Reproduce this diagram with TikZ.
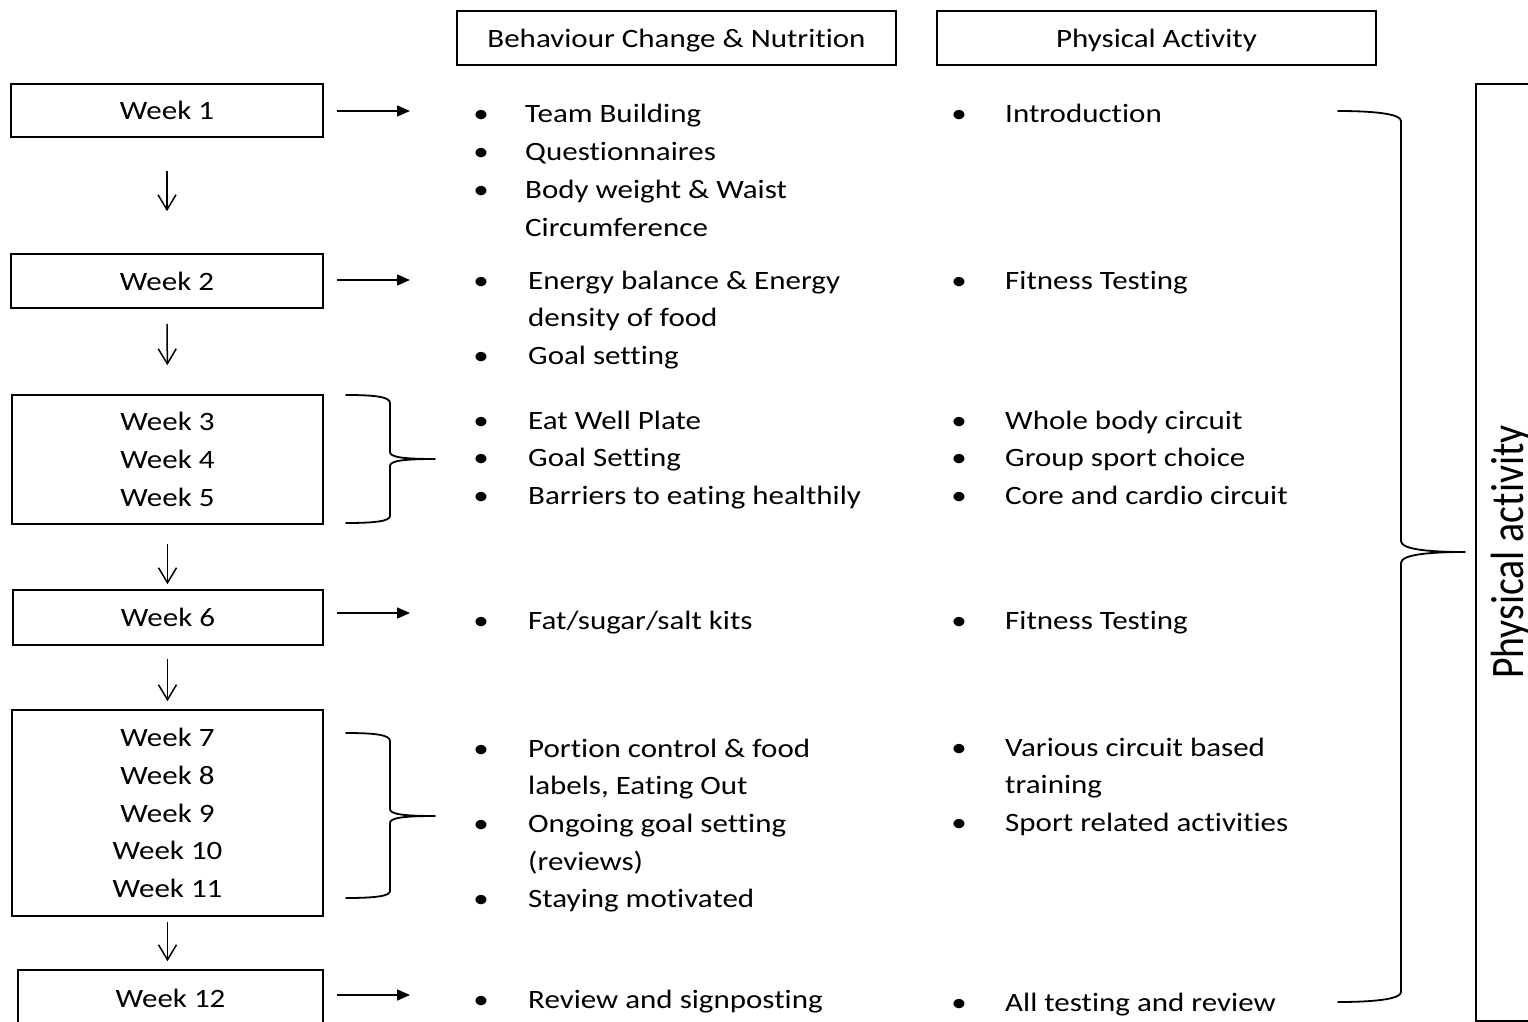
\documentclass[tikz,border=0pt]{standalone}
\usepackage{fontspec}
\usepackage{graphicx}
\setmainfont{Carlito}[FakeStretch=1.17, Ligatures=NoCommon]
\newfontfamily\rotfont{Carlito}[Ligatures=NoCommon]
\usetikzlibrary{arrows.meta}
\newcommand{\litem}[5]{%
  \node[bul] (#1b) at (#2,#4) {•};
  \node[itm] (#1) at (#3,#4) {#5};}
\begin{document}
\begin{tikzpicture}[x=1pt,y=-1pt,
  txt/.style={font=\fontsize{26.5}{37.7}\selectfont, inner sep=0pt},
  wk/.style={draw, line width=1.6pt, minimum width=312pt, inner sep=0pt, align=center,
    font=\fontsize{26.5}{37.7}\selectfont},
  hdr/.style={draw, line width=1.6pt, minimum width=439pt, minimum height=54pt, inner sep=0pt,
    text height=19pt, text depth=0pt, font=\fontsize{26.5}{37.7}\selectfont},
  itm/.style={txt, anchor=base west},
  bul/.style={txt, anchor=base},
  rarr/.style={line width=1.5pt, -{Triangle[length=13pt,width=11pt]}},
  darr/.style={line width=1.5pt, -{Straight Barb[length=15pt,width=18pt]}},
  bracepath/.style={line width=1.8pt, line join=round, line cap=round}
]
\useasboundingbox (0,0) rectangle (1528,1022);
\clip (0,0) rectangle (1528,1022);

% headers
\node[hdr] (h1) at (676.5,38) {Behaviour Change \& Nutrition};
\node[hdr] (h2) at (1156.5,38) {Physical Activity};

% week boxes
\node[wk, minimum height=53pt] (w1) at (167,110.5) {Week 1};
\node[wk, minimum height=54pt] (w2) at (167,281) {Week 2};
\node[wk, minimum height=129pt, minimum width=311pt] (w3) at (167.5,459.5) {Week 3\\Week 4\\Week 5};
\node[wk, minimum height=55pt, minimum width=310pt] (w6) at (168,617.5) {Week 6};
\node[wk, minimum height=206pt, minimum width=311pt] (w7) at (167.5,813) {Week 7\\Week 8\\Week 9\\Week 10\\Week 11};
\node[wk, minimum height=56pt, minimum width=305pt] (w12) at (170.5,998) {Week 12};

% down arrows
\draw[darr, shorten <=33pt, shorten >=42pt] (w1.south) -- (w2.north);
\draw[darr, shorten <=15pt, shorten >=29pt] (w2.south) -- (w3.north);
\draw[darr, shorten <=19pt, shorten >=5pt] (w3.south) -- (w3.south |- w6.north);
\draw[darr, shorten <=13pt, shorten >=8pt] (w6.south -| w7.north) -- (w7.north);
\draw[darr, shorten <=5pt, shorten >=8pt] (w7.south) -- (w7.south |- w12.north);

% right arrows
\coordinate (r1s) at (337,111); \coordinate (r1e) at (410,111);
\coordinate (r2s) at (337,280); \coordinate (r2e) at (410,280);
\coordinate (r6s) at (337,613); \coordinate (r6e) at (410,613);
\coordinate (r12s) at (337,995); \coordinate (r12e) at (410,995);
\draw[rarr] (r1s) -- (r1e);
\draw[rarr] (r2s) -- (r2e);
\draw[rarr] (r6s) -- (r6e);
\draw[rarr] (r12s) -- (r12e);

% small braces
\draw[bracepath] (346,395) .. controls (376,395) and (390,397) .. (390,403) -- (390,452)
  .. controls (390,457) and (402,459) .. (435,459)
  .. controls (402,459) and (390,461) .. (390,466) -- (390,516)
  .. controls (390,521) and (376,523) .. (346,523);
\draw[bracepath] (346,733) .. controls (376,733) and (390,735) .. (390,741) -- (390,809)
  .. controls (390,814) and (402,816) .. (435,816)
  .. controls (402,816) and (390,818) .. (390,823) -- (390,891)
  .. controls (390,896) and (376,898) .. (346,898);

% big brace
\draw[bracepath] (1338,111) .. controls (1375,111) and (1401,114) .. (1401,121) -- (1401,541)
  .. controls (1401,548) and (1420,552) .. (1465,552)
  .. controls (1420,552) and (1401,556) .. (1401,563) -- (1401,992)
  .. controls (1401,999) and (1375,1002) .. (1338,1002);

% right box
\draw[line width=1.6pt] (1476,84) rectangle (1560,1021);
\node[inner sep=0pt] (pa) at (1511,552)
  {\scalebox{1.17}[1]{\rotatebox{90}{\rotfont\fontsize{39.8}{45}\selectfont Physical activity}}};

% row 1
\litem{a1}{481}{525}{123}{Team Building}
\litem{a2}{481}{525}{160.7}{Questionnaires}
\litem{a3}{481}{525}{198.4}{Body weight \& Waist}
\node[itm] (a3c) at (525,236.1) {Circumference};
\litem{p1}{959}{1005}{123}{Introduction}

% row 2
\litem{a4}{481}{528}{289}{Energy balance \& Energy}
\node[itm] (a4c) at (528,326.7) {density of food};
\litem{a5}{481}{528}{364.4}{Goal setting}
\litem{p2}{959}{1005}{289}{Fitness Testing}

% row 3
\litem{a6}{481}{528}{429}{Eat Well Plate}
\litem{a7}{481}{528}{466.7}{Goal Setting}
\litem{a8}{481}{528}{504.4}{Barriers to eating healthily}
\litem{p3}{959}{1005}{429}{Whole body circuit}
\litem{p4}{959}{1005}{466.7}{Group sport choice}
\litem{p5}{959}{1005}{504.4}{Core and cardio circuit}

% row 6
\litem{a9}{481}{528}{629}{Fat/sugar/salt kits}
\litem{p6}{959}{1005}{629}{Fitness Testing}

% row 7
\litem{a10}{481}{528}{757}{Portion control \& food}
\node[itm] (a10c) at (528,794.7) {labels, Eating Out};
\litem{a11}{481}{528}{832.4}{Ongoing goal setting}
\node[itm] (a11c) at (528,870.1) {(reviews)};
\litem{a12}{481}{528}{907.8}{Staying motivated}
\litem{p7}{959}{1005}{756}{Various circuit based}
\node[itm] (p7c) at (1005,793.7) {training};
\litem{p8}{959}{1005}{831.4}{Sport related activities}

% row 12
\litem{a13}{481}{528}{1008}{Review and signposting}
\litem{p9}{959}{1005}{1011}{All testing and review}
\end{tikzpicture}
\end{document}
